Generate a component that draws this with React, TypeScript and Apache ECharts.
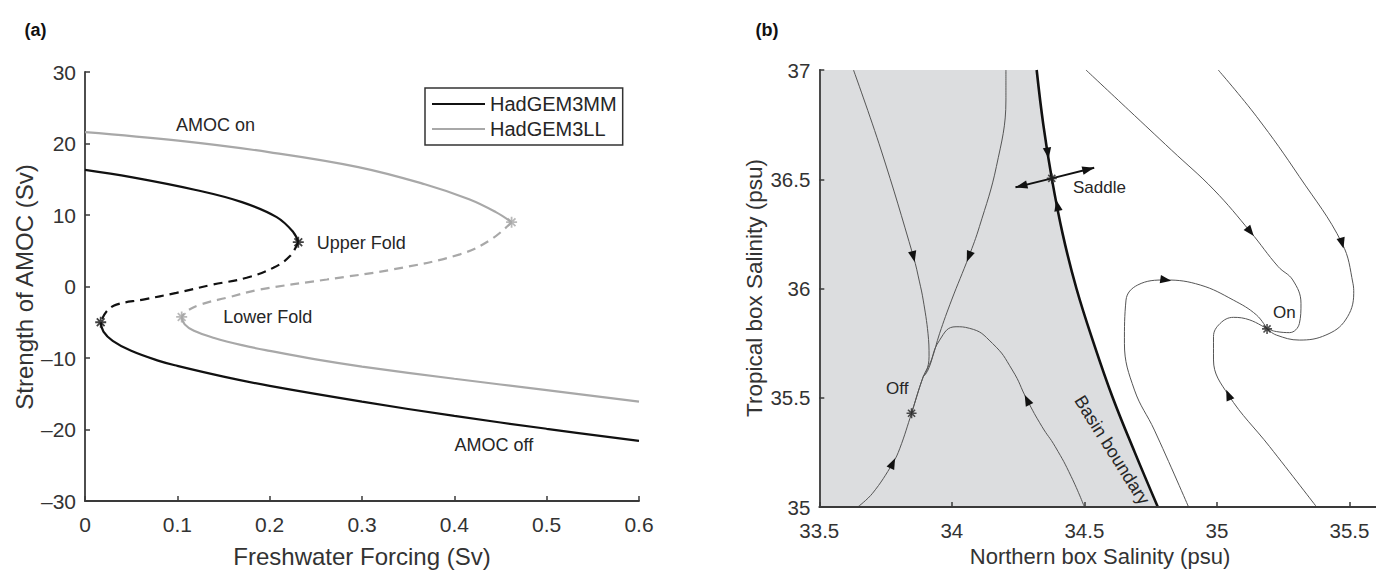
import React, { useEffect, useRef } from 'react';
import * as echarts from 'echarts';

// ---------- Panel (a): bifurcation diagram (Freshwater Forcing Sv, AMOC Sv) ----------
const mmUpper = [[0, 16.3], [0.05, 15.3], [0.12, 13.5], [0.17, 11.8], [0.2076, 9.7], [0.2256, 7.6], [0.231, 6.2]];
const mmUnstable = [[0.231, 6.2], [0.222, 4.26], [0.204, 2.62], [0.175, 1.22], [0.139, 0.28], [0.099, -0.89], [0.063, -1.83], [0.034, -2.53], [0.0235, -3.47], [0.017, -5.0]];
const mmLower = [[0.017, -5.0], [0.02, -6.3], [0.03, -7.6], [0.05, -9.0], [0.08, -10.4], [0.1, -11.1], [0.15, -12.6], [0.2, -13.9], [0.3, -16.1], [0.4, -18.1], [0.5, -19.9], [0.6, -21.6]];
const llUpper = [[0, 21.6], [0.101, 20.4], [0.199, 18.8], [0.296, 16.7], [0.368, 14.3], [0.416, 12.2], [0.445, 10.4], [0.462, 9.0]];
const llUnstable = [[0.462, 9.0], [0.44, 6.6], [0.406, 4.5], [0.334, 2.4], [0.262, 0.98], [0.19, -0.42], [0.153, -1.59], [0.125, -2.53], [0.11, -3.47], [0.1047, -4.26]];
const llLower = [[0.1047, -4.26], [0.108, -5.3], [0.118, -6.2], [0.14, -7.2], [0.17, -8.2], [0.2, -9.0], [0.25, -10.2], [0.3, -11.2], [0.4, -12.9], [0.5, -14.5], [0.6, -16.1]];
const mmFolds = [[0.231, 6.2], [0.017, -5.0]];
const llFolds = [[0.462, 9.0], [0.1047, -4.26]];

// ---------- Panel (b): phase plane (Northern box S, Tropical box S) ----------
const basinBoundary = [[34.32, 37.0], [34.345, 36.75], [34.377, 36.504], [34.418, 36.25], [34.47, 36.0], [34.535, 35.75], [34.607, 35.5], [34.69, 35.25], [34.777, 35.0]];
const trajA = [[33.629, 37.0], [33.733, 36.634], [33.855, 36.146], [33.878, 36.03], [33.892, 35.947], [33.91, 35.795], [33.914, 35.688], [33.904, 35.619], [33.892, 35.596], [33.848, 35.429]];
const trajB = [[34.204, 37.0], [34.204, 36.863], [34.168, 36.558], [34.104, 36.283], [34.064, 36.146], [33.999, 35.947], [33.954, 35.795], [33.923, 35.673], [33.892, 35.596], [33.848, 35.429], [33.804, 35.269], [33.777, 35.2], [33.701, 35.063], [33.645, 35.0]];
const trajC = [[34.5, 35.0], [34.45, 35.14], [34.39, 35.276], [34.34, 35.368], [34.284, 35.49], [34.228, 35.627], [34.153, 35.749], [34.066, 35.818], [34.016, 35.825], [33.954, 35.764], [33.91, 35.627], [33.892, 35.596]];
const trajD1 = [[34.506, 37.0], [34.667, 36.817], [34.828, 36.634], [34.989, 36.451], [35.126, 36.26], [35.231, 36.1], [35.286, 36.039], [35.317, 35.932], [35.311, 35.84], [35.274, 35.798], [35.224, 35.803], [35.189, 35.815]];
const trajD2 = [[35.005, 37.0], [35.15, 36.786], [35.311, 36.512], [35.472, 36.207], [35.513, 36.024], [35.516, 35.978], [35.485, 35.856], [35.411, 35.787], [35.311, 35.764], [35.224, 35.787], [35.189, 35.815]];
const trajD3 = [[34.893, 35.0], [34.764, 35.352], [34.689, 35.535], [34.651, 35.749], [34.657, 35.947], [34.701, 36.016], [34.807, 36.039], [34.937, 36.016], [35.062, 35.947], [35.149, 35.879], [35.189, 35.815]];
const trajD4 = [[35.376, 35.0], [35.199, 35.276], [35.043, 35.513], [34.987, 35.673], [34.987, 35.78], [35.012, 35.84], [35.062, 35.868], [35.124, 35.856], [35.189, 35.815]];
const saddleLine = [[34.24, 36.463], [34.377, 36.504], [34.537, 36.553]];
const fixedPoints = [[34.377, 36.504], [33.848, 35.429], [35.189, 35.815]];
// [x, y, refX, refY, sign]: sign 1 = arrow centred at (x,y) pointing toward ref; -1 = tip at (x,y) pointing away from ref
const arrowsB = [
  [33.855, 36.146, 33.878, 36.03, 1],
  [34.064, 36.146, 33.999, 35.947, 1],
  [33.777, 35.2, 33.804, 35.269, 1],
  [34.284, 35.49, 34.228, 35.627, 1],
  [35.126, 36.26, 35.231, 36.1, 1],
  [35.472, 36.207, 35.513, 36.024, 1],
  [34.807, 36.039, 34.937, 36.016, 1],
  [35.043, 35.513, 34.987, 35.673, 1],
  [34.362, 36.62, 34.377, 36.504, 1],
  [34.398, 36.38, 34.377, 36.504, 1],
  [34.24, 36.463, 34.377, 36.504, -1],
  [34.537, 36.553, 34.377, 36.504, -1],
];

const FONT = '"Liberation Sans", Arial, Helvetica, sans-serif';
const ASTER =
  'path://M-1,-0.16L1,-0.16L1,0.16L-1,0.16Z M-0.16,-1L0.16,-1L0.16,1L-0.16,1Z M-0.594,-0.82L0.82,0.594L0.594,0.82L-0.82,-0.594Z M-0.82,0.594L0.594,-0.82L0.82,-0.594L-0.594,0.82Z';

const AXIS_COLOR = '#3a3a3a';
const BLACK = '#111111';
const GRAY = '#a8a8a8';
const TRAJ = '#555555';

function App() {
  const ref = useRef<HTMLDivElement>(null);
  useEffect(() => {
    if (!ref.current) return;
    const chart = echarts.init(ref.current, null, { renderer: 'svg' });
    const axisCommon = (fs: number) => ({
      axisLine: { show: true, onZero: false, lineStyle: { color: AXIS_COLOR, width: 1.8 } },
      axisTick: { show: true, inside: true, length: 5, lineStyle: { color: AXIS_COLOR, width: 1.5 } },
      splitLine: { show: false },
      axisLabel: { fontSize: fs, color: '#333', fontFamily: FONT },
    });
    const lineS = (name: string, data: number[][], color: string, width: number, dashed: boolean, xi: number, smooth: number | boolean = 0.4, z = 3) => ({
      type: 'line', name, data, xAxisIndex: xi, yAxisIndex: xi, symbol: 'none', showSymbol: false, smooth,
      lineStyle: { color, width, type: dashed ? [9, 6] : 'solid' }, itemStyle: { color }, z, silent: true,
    });
    const text = (t: string, x: number, y: number, fs: number, extra: any = {}) => ({
      type: 'text', x, y, z: 100, rotation: extra.rotation || 0,
      style: { text: t, font: `${extra.bold ? 'bold ' : ''}${fs}px ${FONT}`, fill: extra.fill || '#262626', textAlign: extra.align || 'left', textVerticalAlign: 'middle' },
    });
    const option: any = {
      animation: false,
      backgroundColor: '#ffffff',
      grid: [
        { left: 85, top: 72, width: 554, height: 429 },
        { left: 819.3, top: 70, width: 559.7, height: 437 },
      ],
      xAxis: [
        { type: 'value', gridIndex: 0, min: 0, max: 0.6, interval: 0.1, ...axisCommon(21),
          axisLabel: { ...axisCommon(21).axisLabel, margin: 13, formatter: (v: number) => String(+v.toFixed(2)) } },
        { type: 'value', gridIndex: 1, min: 33.5, max: 35.6, interval: 0.5, z: 10, ...axisCommon(20.5),
          axisLabel: { ...axisCommon(20.5).axisLabel, margin: 13, showMaxLabel: false, formatter: (v: number) => (Math.abs(v * 2 - Math.round(v * 2)) < 1e-6 ? String(+v.toFixed(2)) : '') } },
      ],
      yAxis: [
        { type: 'value', gridIndex: 0, min: -30, max: 30, interval: 10, ...axisCommon(21),
          axisLabel: { ...axisCommon(21).axisLabel, margin: 9, formatter: (v: number) => (v < 0 ? '\u2013' + Math.abs(v) : String(v)) } },
        { type: 'value', gridIndex: 1, min: 35, max: 37, interval: 0.5, z: 10, ...axisCommon(20.5),
          axisLabel: { ...axisCommon(20.5).axisLabel, margin: 9, formatter: (v: number) => String(+v.toFixed(2)) } },
      ],
      legend: {
        data: ['HadGEM3MM', 'HadGEM3LL'], left: 425, top: 88, orient: 'vertical', icon: 'rect',
        itemWidth: 53, itemHeight: 2.2, itemGap: 5, padding: [6, 6, 6, 7],
        borderColor: '#333', borderWidth: 1.5, backgroundColor: '#fff', selectedMode: false,
        textStyle: { fontSize: 20, color: '#262626', fontFamily: FONT, lineHeight: 20 },
      },
      series: [
        lineS('HadGEM3MM', mmUpper, BLACK, 2.2, false, 0),
        lineS('HadGEM3MM unstable', mmUnstable, BLACK, 2.2, true, 0),
        lineS('HadGEM3MM', mmLower, BLACK, 2.2, false, 0),
        lineS('HadGEM3LL', llUpper, GRAY, 2.2, false, 0),
        lineS('HadGEM3LL unstable', llUnstable, GRAY, 2.2, true, 0),
        lineS('HadGEM3LL', llLower, GRAY, 2.2, false, 0),
        { type: 'scatter', name: 'mm folds', data: mmFolds, xAxisIndex: 0, yAxisIndex: 0, symbol: ASTER, symbolSize: 11, itemStyle: { color: BLACK }, z: 6, silent: true },
        { type: 'scatter', name: 'll folds', data: llFolds, xAxisIndex: 0, yAxisIndex: 0, symbol: ASTER, symbolSize: 11, itemStyle: { color: GRAY }, z: 6, silent: true },
        {
          type: 'custom', name: 'basin', xAxisIndex: 1, yAxisIndex: 1, data: [[33.5, 35]], z: 1, silent: true,
          renderItem: (params: any, api: any) => {
            const pts = [[33.5, 37], ...basinBoundary, [33.5, 35]].map((p) => api.coord(p));
            return { type: 'polygon', shape: { points: pts, smooth: 0 }, style: { fill: '#dcdddf' } };
          },
        },
        lineS('traj a', trajA, TRAJ, 1, false, 1, 0.4),
        lineS('traj b', trajB, TRAJ, 1, false, 1, 0.4),
        lineS('traj c', trajC, TRAJ, 1, false, 1, 0.5),
        lineS('traj d1', trajD1, TRAJ, 1, false, 1, 0.4),
        lineS('traj d2', trajD2, TRAJ, 1, false, 1, 0.4),
        lineS('traj d3', trajD3, TRAJ, 1, false, 1, 0.4),
        lineS('traj d4', trajD4, TRAJ, 1, false, 1, 0.4),
        lineS('boundary', basinBoundary, BLACK, 2.6, false, 1, 0.4, 4),
        lineS('saddle', saddleLine, BLACK, 2, false, 1, false, 5),
        {
          type: 'custom', name: 'arrows', xAxisIndex: 1, yAxisIndex: 1, data: arrowsB, z: 7, silent: true,
          encode: { x: [0, 2], y: [1, 3] },
          renderItem: (params: any, api: any) => {
            const p = api.coord([api.value(0), api.value(1)]);
            const q = api.coord([api.value(2), api.value(3)]);
            const s = api.value(4);
            let dx = q[0] - p[0];
            let dy = q[1] - p[1];
            const len = Math.hypot(dx, dy) || 1;
            dx /= len; dy /= len;
            if (s < 0) { dx = -dx; dy = -dy; }
            const L = s < 0 ? 12 : 11;
            const W = 4.2;
            let tip: number[];
            let base: number[];
            if (s < 0) { tip = [p[0], p[1]]; base = [p[0] - dx * L, p[1] - dy * L]; }
            else { tip = [p[0] + dx * L * 0.5, p[1] + dy * L * 0.5]; base = [p[0] - dx * L * 0.5, p[1] - dy * L * 0.5]; }
            const nx = -dy, ny = dx;
            return { type: 'polygon', shape: { points: [tip, [base[0] + nx * W, base[1] + ny * W], [base[0] - nx * W, base[1] - ny * W]] }, style: { fill: BLACK } };
          },
        },
        { type: 'scatter', name: 'fixed points', data: fixedPoints, xAxisIndex: 1, yAxisIndex: 1, symbol: ASTER, symbolSize: 10, itemStyle: { color: '#222' }, z: 8, silent: true },
      ],
      graphic: [
        text('(a)', 35.5, 30, 18, { bold: true, align: 'center', fill: '#111' }),
        text('(b)', 767, 30, 18, { bold: true, align: 'center', fill: '#111' }),
        text('Strength of AMOC (Sv)', 24.5, 287, 24, { rotation: Math.PI / 2, align: 'center', fill: '#333' }),
        text('Freshwater Forcing (Sv)', 362, 556, 24, { align: 'center', fill: '#333' }),
        text('Tropical box Salinity (psu)', 754, 288, 22.5, { rotation: Math.PI / 2, align: 'center', fill: '#333' }),
        text('Northern box Salinity (psu)', 1100, 556, 22, { align: 'center', fill: '#333' }),
        text('AMOC on', 176, 125, 18),
        text('Upper Fold', 316.7, 243, 18),
        text('Lower Fold', 223.3, 316.7, 18),
        text('AMOC off', 454.5, 445, 18),
        text('Saddle', 1073, 187.5, 17),
        text('Off', 886, 388, 17),
        text('On', 1273, 312, 17),
        text('Basin boundary', 1112, 450, 18, { rotation: -1.01, align: 'center' }),
      ],
    };
    chart.setOption(option);
    return () => chart.dispose();
  }, []);
  return <div ref={ref} style={{ position: 'fixed', left: 0, top: 0, width: 1376, height: 570, background: '#fff' }} />;
}

export default App;
